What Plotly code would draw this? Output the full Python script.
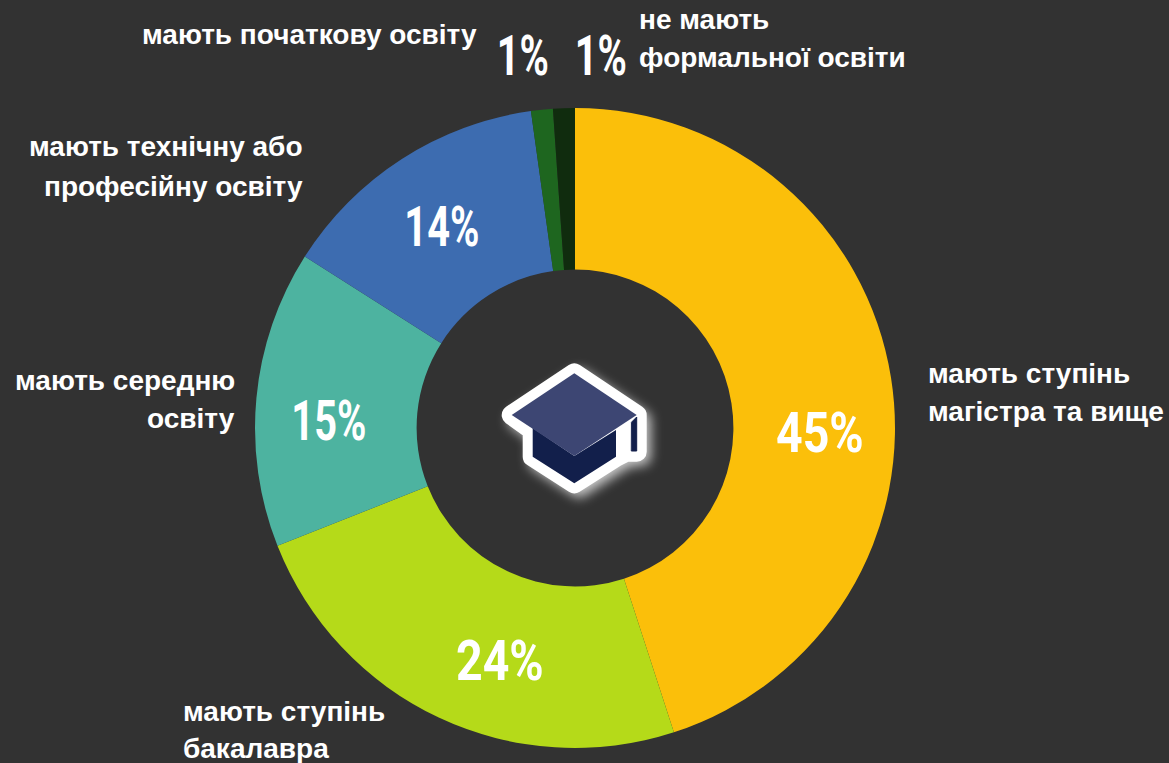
import base64
import plotly.graph_objects as go

W, H = 1169, 763

# Education shares (slice sizes as measured, labels as printed)
categories = [
    "мають ступінь магістра та вище",
    "мають ступінь бакалавра",
    "мають середню освіту",
    "мають технічну або професійну освіту",
    "мають початкову освіту",
    "не мають формальної освіти",
]
values = [45, 24, 15, 13.8, 1.1, 1.1]
pct_labels = ["45%", "24%", "15%", "14%", "1%", "1%"]
colors = ["#FBBF0A", "#B5DA19", "#4DB3A0", "#3D6CB0", "#1E661F", "#102C0E"]

# (text, x px, y px, anchor)
label_lines = [
    ("мають ступінь", 926, 373, "left"),
    ("магістра та вище", 926, 411, "left"),
    ("мають ступінь", 181, 711, "left"),
    ("бакалавра", 181, 748, "left"),
    ("мають середню", 237, 380, "right"),
    ("освіту", 237, 418, "right"),
    ("мають технічну або", 305, 147, "right"),
    ("професійну освіту", 305, 186, "right"),
    ("мають початкову освіту", 479, 34, "right"),
    ("не мають", 637, 19, "left"),
    ("формальної освіти", 637, 57, "left"),
]
pct_x = [820, 500, 329, 442, 523, 601]
pct_y = [433, 661, 421, 227, 56, 56]

# Graduation cap icon, drawn in a 190x170 box
cap_outline = "M94.3 33.3 L156.7 75 V111.7 H146 L136 116.7 L94.3 143.3 L52.7 116.7 V90 L31.7 75 Z"
cap_svg = f"""<svg xmlns="http://www.w3.org/2000/svg" width="190" height="170" viewBox="0 0 190 170">
<defs><filter id="g" x="-30%" y="-30%" width="160%" height="160%"><feGaussianBlur stdDeviation="6"/></filter></defs>
<g stroke-linejoin="round" stroke-linecap="round">
<path filter="url(#g)" transform="translate(5,5)" fill="#fff" stroke="#fff" stroke-width="18" opacity="0.75" d="{cap_outline}"/>
<path fill="#fff" stroke="#fff" stroke-width="20" d="{cap_outline}"/>
<path fill="#121F4B" d="M52.7 88 V116.7 L94.3 143.3 L136 116.7 V90 L94.3 116 Z"/>
<path fill="#121F4B" stroke="#121F4B" stroke-width="1" d="M151.7 82 L156.7 77 V111 H151.7 Z"/>
<path fill="#3D4673" d="M94.3 33.3 L156.7 75 L94.3 116 L31.7 75 Z"/>
</g></svg>"""
cap_uri = "data:image/svg+xml;base64," + base64.b64encode(cap_svg.encode()).decode()

# no page margin, and the percent figures squeezed to a condensed look
post_js = """
document.body.style.margin = '0';
document.body.style.background = '#323232';
document.querySelectorAll('.annotation-text').forEach(function (t) {
    if (t.textContent.endsWith('%')) {
        var squeeze = t.textContent.startsWith('1') ? 0.71 : 0.83;
        t.setAttribute('lengthAdjust', 'spacingAndGlyphs');
        t.setAttribute('textLength', t.getComputedTextLength() * squeeze);
    }
});
"""


def px(x):
    return x / W


def py(y):
    return 1 - y / H


fig = go.Figure(go.Pie(
    labels=categories,
    values=values,
    sort=False,
    direction="clockwise",
    rotation=0,
    hole=0.495,
    marker=dict(colors=colors, line=dict(width=0)),
    textinfo="none",
    domain=dict(x=[px(255), px(895)], y=[py(748), py(108)]),
))

for text, x, y, anchor in label_lines:
    fig.add_annotation(text=text, x=px(x), y=py(y), xref="paper", yref="paper",
                       xanchor=anchor, yanchor="middle", showarrow=False,
                       font=dict(family="Liberation Sans", size=28, color="white", weight="bold"))

for label, x, y in zip(pct_labels, pct_x, pct_y):
    fig.add_annotation(text=label, x=px(x), y=py(y), xref="paper", yref="paper",
                       xanchor="center", yanchor="middle", showarrow=False,
                       font=dict(family="Roboto", size=56, color="white", weight="bold"))

fig.add_layout_image(source=cap_uri, xref="paper", yref="paper", x=px(480), y=py(340),
                     sizex=190 / W, sizey=170 / H, xanchor="left", yanchor="top",
                     sizing="stretch", layer="above")

fig.update_layout(
    width=W, height=H,
    margin=dict(l=0, r=0, t=0, b=0),
    paper_bgcolor="#323232",
    plot_bgcolor="#323232",
    showlegend=False,
)

fig.write_html("out.html", post_script=post_js, config=dict(displayModeBar=False))
